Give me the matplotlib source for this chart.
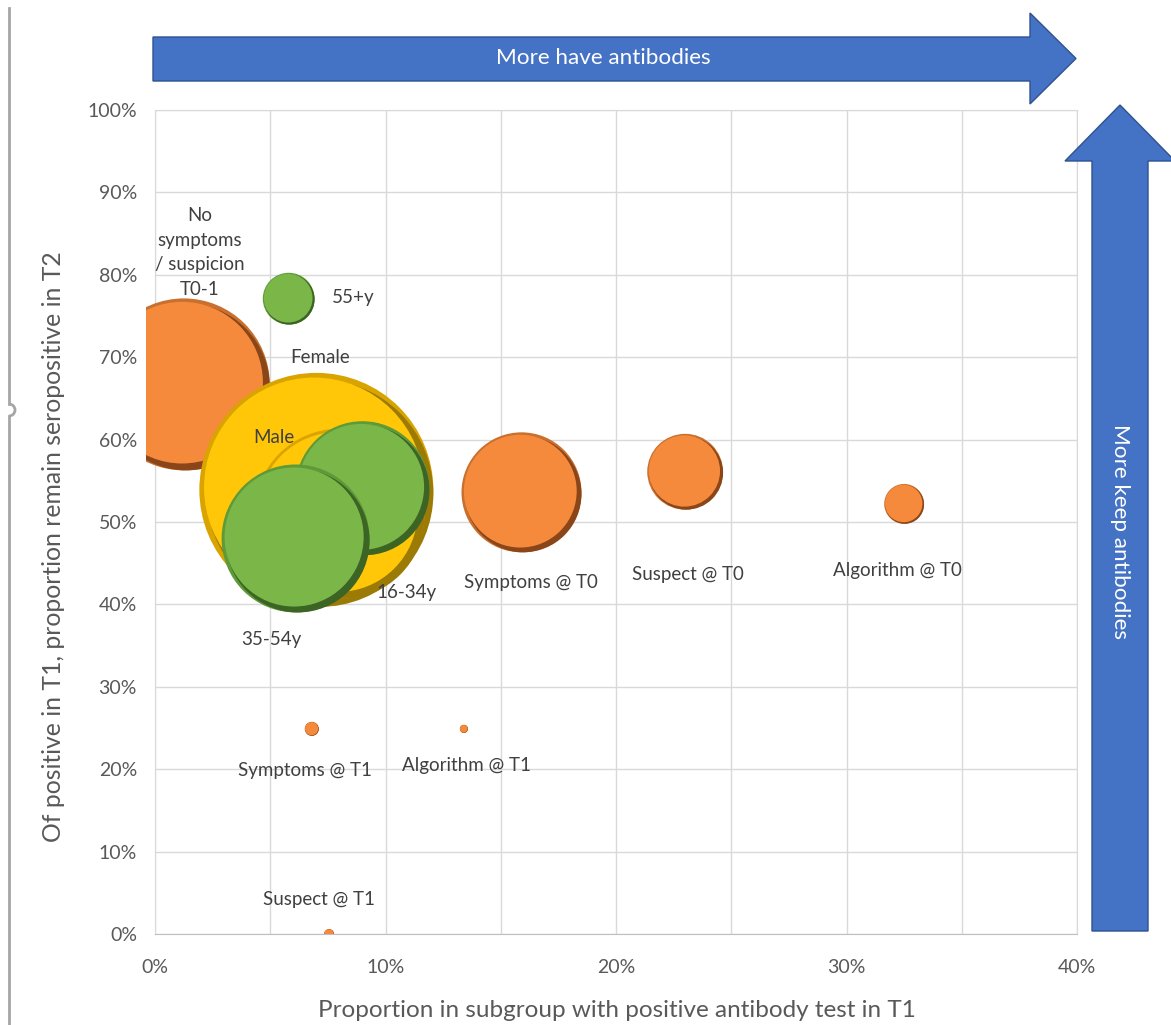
import numpy as np
import matplotlib
matplotlib.use('Agg')
import matplotlib.pyplot as plt
from matplotlib.patches import Polygon, Rectangle, Arc
from matplotlib.ticker import PercentFormatter, MultipleLocator
from matplotlib.transforms import offset_copy

plt.rcParams['font.family'] = ['Lato', 'DejaVu Sans']

# data (draw order = Excel series order)
groups = ["No\nsymptoms\n/ suspicion\nT0-1", "Symptoms @ T0", "Suspect @ T0", "Algorithm @ T0",
          "Symptoms @ T1", "Suspect @ T1", "Algorithm @ T1",
          "Female", "Male", "16-34y", "35-54y", "55+y"]
pct_positive_t1 = [1.25, 15.9, 23.0, 32.5, 6.8, 7.55, 13.4, 7.0, 8.0, 9.0, 6.1, 5.8]
pct_remain_t2 = [66.7, 53.6, 56.1, 52.2, 24.9, 0.0, 24.9, 53.9, 51.0, 54.1, 48.0, 77.1]
bubble_size = [540, 263, 105, 29, 3.6, 1.8, 1.2, 1000, 528, 328, 400, 49]
kind = ['symptom'] * 7 + ['sex'] * 2 + ['age'] * 3

# label positions (data coords)
label_x = [1.95, 16.3, 23.1, 32.2, 6.5, 7.1, 13.5, 7.16, 5.16, 10.9, 5.03, 8.6]
label_y = [82.7, 42.6, 43.6, 44.1, 19.9, 4.2, 20.4, 70.0, 60.3, 41.4, 35.7, 77.2]

colours = {
    'symptom': ('#F58A3C', '#C9702F', '#8A4519'),
    'sex': ('#FFC708', '#D9A300', '#9C7A06'),
    'age': ('#7AB648', '#5E9A38', '#3C6424'),
}

W, H = 1171, 1025
fig = plt.figure(figsize=(W / 100, H / 100), dpi=100)
L, R, T, B = 155, 1077, 110, 934
ax = fig.add_axes([L / W, (H - B) / H, (R - L) / W, (B - T) / H])

ax.set_xlim(0, 40)
ax.set_ylim(0, 100)
ax.xaxis.set_major_locator(MultipleLocator(10))
ax.xaxis.set_minor_locator(MultipleLocator(5))
ax.yaxis.set_major_locator(MultipleLocator(10))
ax.xaxis.set_major_formatter(PercentFormatter(100, decimals=0))
ax.yaxis.set_major_formatter(PercentFormatter(100, decimals=0))
ax.grid(which='both', color='#D9D9D9', lw=1)
ax.set_axisbelow(True)
for s in ax.spines.values():
    s.set_color('#D9D9D9')
ax.spines['bottom'].set_color('#BFBFBF')
ax.tick_params(which='both', length=0)
ax.tick_params(axis='y', pad=13, labelsize=14, labelcolor='#595959')
ax.tick_params(axis='x', pad=18, labelsize=14, labelcolor='#595959')

ax.set_xlabel('Proportion in subgroup with positive antibody test in T1', fontsize=17.5, color='#595959')
ax.set_ylabel('Of positive in T1, proportion remain seropositive in T2', fontsize=17.8, color='#595959')
ax.xaxis.set_label_coords(0.501, -0.080)
ax.yaxis.set_label_coords(-0.0976, 0.47)

# clip slightly left of the axis like the original
clip = Rectangle((146 / W, (H - B) / H), (R - 146) / W, (B - T) / H,
                 transform=fig.transFigure, fill=False, visible=False)
fig.patches.append(clip)

for i in range(len(groups)):
    main, light, dark = colours[kind[i]]
    r = 117 * np.sqrt(bubble_size[i] / 1000.0)  # radius in px
    rp = r * 0.72  # radius in points
    layers = [(rp, 0, 0, light),
              (rp * 0.97, 0.03 * rp, -0.03 * rp, dark),
              (rp * 0.94, -0.02 * rp, 0.02 * rp, main)]
    for rad, dx, dy, c in layers:
        tr = offset_copy(ax.transData, fig=fig, x=dx, y=dy, units='points')
        sc = ax.scatter([pct_positive_t1[i]], [pct_remain_t2[i]], s=(2 * rad) ** 2,
                        color=c, edgecolors='none', transform=tr, zorder=3 + i)
        sc.set_clip_path(clip)
    ax.text(label_x[i], label_y[i], groups[i], ha='center', va='center',
            fontsize=13.5, color='#404040', linespacing=1.55, zorder=20)

# overlay for the arrows
ov = fig.add_axes([0, 0, 1, 1])
ov.set_xlim(0, W)
ov.set_ylim(H, 0)
ov.axis('off')
ov.patch.set_alpha(0)

blue = '#4472C4'
edge = '#2F528F'
top_arrow = [(153, 37), (1030, 37), (1030, 13), (1076, 58.5), (1030, 104), (1030, 81), (153, 81)]
ov.add_patch(Polygon(top_arrow, closed=True, fc=blue, ec=edge, lw=1))
ov.text(603, 58, 'More have antibodies', color='white', fontsize=16.2, ha='center', va='center')

right_arrow = [(1092, 931), (1092, 161), (1065, 161), (1120, 105), (1175, 161), (1148, 161), (1148, 931)]
ov.add_patch(Polygon(right_arrow, closed=True, fc=blue, ec=edge, lw=1))
ov.text(1120, 532, 'More keep antibodies', color='white', fontsize=16.2, ha='center', va='center',
        rotation=-90)

# left border line with small bump
ov.plot([9, 9], [8, 404], color='#A6A6A6', lw=2)
ov.plot([9, 9], [416, H], color='#A6A6A6', lw=2)
ov.add_patch(Arc((9, 410), 12, 12, theta1=-90, theta2=90, color='#A6A6A6', lw=2))

fig.savefig('out.png', dpi=100)
